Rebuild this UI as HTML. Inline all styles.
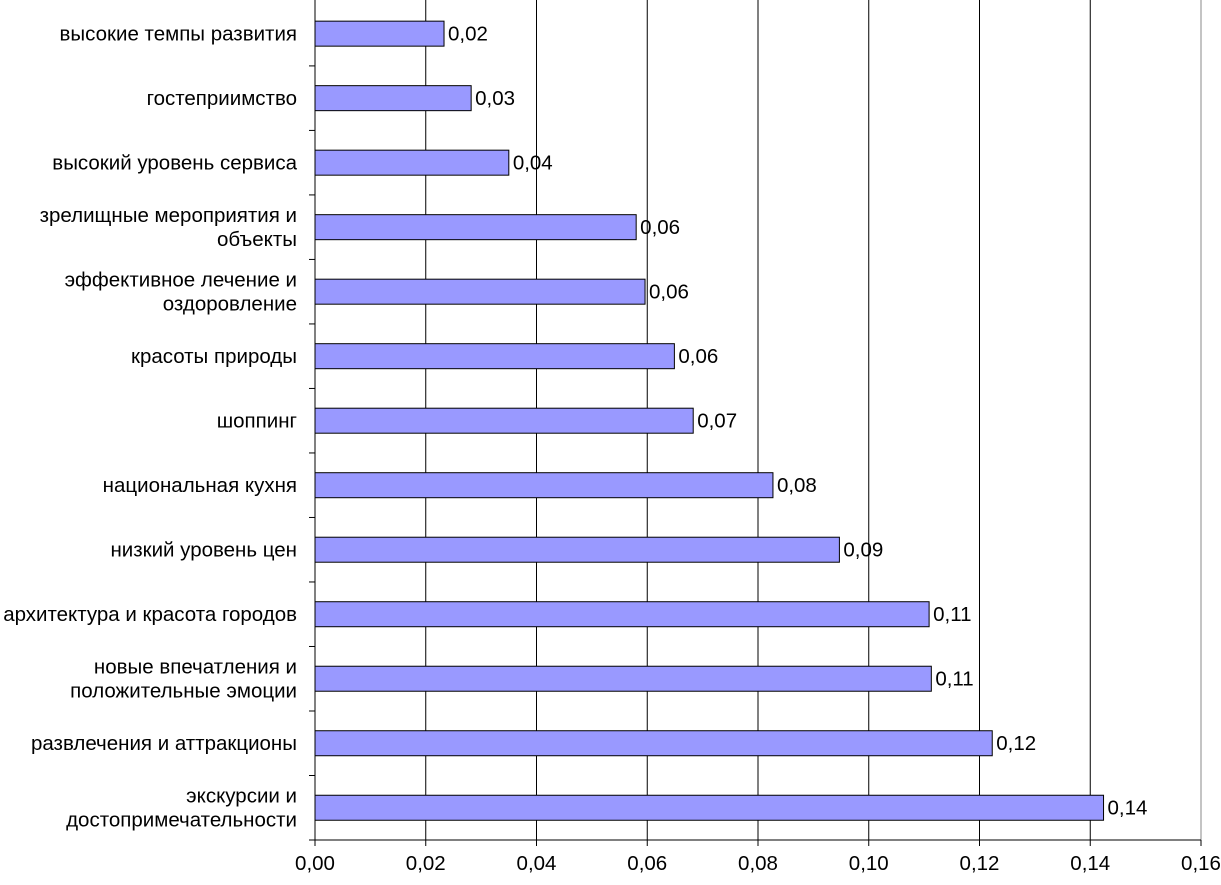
<!DOCTYPE html>
<html><head><meta charset="utf-8"><style>
html,body{margin:0;padding:0;background:#fff;}
svg text{font-family:"Liberation Sans",Arial,sans-serif;font-size:20.5px;fill:#000;}
</style></head><body>
<svg id="chart" width="1221" height="880" xmlns="http://www.w3.org/2000/svg"></svg>
<script>
const categories=[["высокие темпы развития"],["гостеприимство"],["высокий уровень сервиса"],["зрелищные мероприятия и","объекты"],["эффективное лечение и","оздоровление"],["красоты природы"],["шоппинг"],["национальная кухня"],["низкий уровень цен"],["архитектура и красота городов"],["новые впечатления и","положительные эмоции"],["развлечения и аттракционы"],["экскурсии и","достопримечательности"]];
const values=[0.0233,0.0282,0.0350,0.0580,0.0596,0.0649,0.0683,0.0827,0.0947,0.1109,0.1113,0.1223,0.1424];
const valueLabels=["0,02","0,03","0,04","0,06","0,06","0,06","0,07","0,08","0,09","0,11","0,11","0,12","0,14"];
const ticks=[0,0.02,0.04,0.06,0.08,0.10,0.12,0.14,0.16];
const tickLabels=["0,00","0,02","0,04","0,06","0,08","0,10","0,12","0,14","0,16"];
const NS="http://www.w3.org/2000/svg",svgEl=document.getElementById('chart');
const X0=315,X1=1201,plotTop=1.4,plotBottom=840,band=(plotBottom-plotTop)/categories.length;
const xs=v=>X0+(X1-X0)*v/0.16;
const ys=i=>plotTop+band*i;
function mk(t,a,p){const e=document.createElementNS(NS,t);for(const k in a)e.setAttribute(k,a[k]);(p||svgEl).appendChild(e);return e;}
ticks.forEach((t,i)=>{
 if(i>0){const g=mk('line',{x1:xs(t),x2:xs(t),y1:0,y2:plotBottom,stroke:i==8?'#888':'#000','stroke-width':1});
 
 }
 const tk=mk('line',{x1:xs(t),x2:xs(t),y1:plotBottom,y2:plotBottom+6,stroke:'#000'});
 
 
 const l=mk('text',{x:xs(t),y:870,'text-anchor':'middle'});l.textContent=tickLabels[i];
 
 
});
categories.forEach((c,i)=>{
 const cy=ys(i)+band/2;
 const tk=mk('line',{x1:X0-6,x2:X0,y1:ys(i+1),y2:ys(i+1),stroke:'#000'});
 
 
 const b=mk('rect',{x:X0,y:cy-12.5,width:xs(values[i])-X0,height:25,fill:'#9999ff',stroke:'#000','stroke-width':1});
 
 
 const v=mk('text',{x:xs(values[i])+4,y:cy+7});v.textContent=valueLabels[i];
 
 
 const lt=mk('text',{'text-anchor':'end'});
 
 
 const n=c.length;
 c.forEach((s,j)=>{const ts=mk('tspan',{x:297,y:cy+7+(j-(n-1)/2)*24},lt);ts.textContent=s;});
});
const ax=mk('line',{x1:X0,x2:X0,y1:0,y2:plotBottom,stroke:'#000'});


const xa=mk('line',{x1:X0,x2:X1,y1:plotBottom,y2:plotBottom,stroke:'#000'});


</script>
</body></html>
